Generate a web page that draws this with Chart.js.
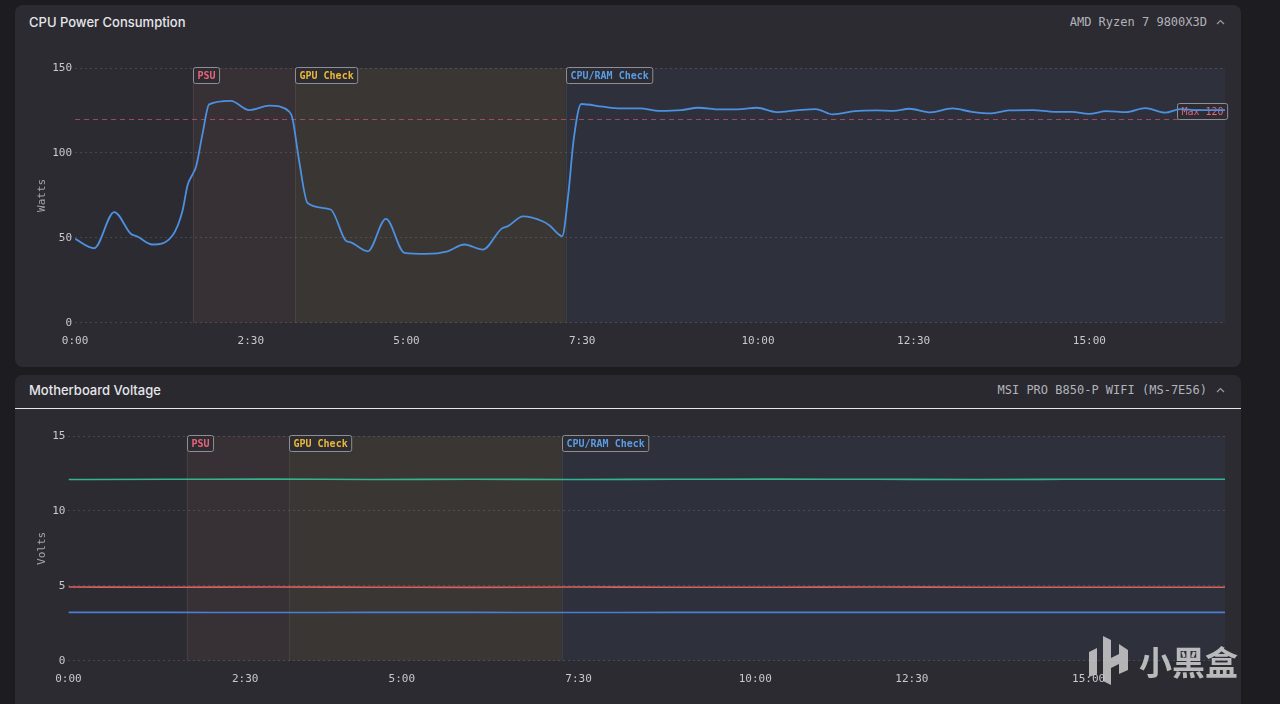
<!DOCTYPE html>
<html>
<head>
<meta charset="utf-8">
<title>Hardware Monitor</title>
<script src="https://cdn.jsdelivr.net/npm/chart.js@4.4.1/dist/chart.umd.min.js"></script>
<style>
  html, body { margin: 0; padding: 0; }
  body { width: 1280px; height: 704px; overflow: hidden; background: #1d1d21; position: relative; font-family: Inter, "Noto Sans", sans-serif; }
  .card { position: absolute; left: 15px; width: 1226px; background: #2c2b32; border-radius: 8px; overflow: hidden; }
  #cpuCard { top: 5px; height: 362px; }
  #voltCard { top: 375px; height: 340px; border-radius: 8px 8px 0 0; }
  .head { position: absolute; left: 0; top: 0; width: 100%; height: 33px; }
  #voltCard .head { background: #29292f; border-bottom: 1.5px solid #e6e6e6; }
  .title { position: absolute; left: 14px; font-size: 13px; font-weight: 500; color: #e6e6ea; line-height: 16px; }
  #cpuCard .title, #cpuCard .device { top: 9px; }
  #voltCard .title, #voltCard .device { top: 7px; }
  .device { position: absolute; right: 34px; font: 12px "DejaVu Sans Mono", monospace; color: #b2b2ba; line-height: 16px; }
  .chev { position: absolute; right: 16px; width: 9px; height: 6px; }
  #cpuCard .chev { top: 14px; }
  #voltCard .chev { top: 12px; }
  .plot { position: absolute; left: 0; width: 1226px; }
  #cpuCard .plot { top: 50px; height: 308px; }
  #voltCard .plot { top: 48px; height: 278px; }
  .mark { position: absolute; left: 1089px; top: 636px; }
  .brand { position: absolute; left: 1139px; top: 641px; font: 700 33px "Noto Sans CJK SC"; line-height: 40px; color: rgba(205,205,205,0.88); }
</style>
</head>
<body>
<div class="card" id="cpuCard">
  <div class="head">
    <span class="title">CPU Power Consumption</span>
    <span class="device">AMD Ryzen 7 9800X3D</span>
    <svg class="chev" viewBox="0 0 9 6"><polyline points="1,5 4.5,1.5 8,5" fill="none" stroke="#9a9aa2" stroke-width="1.2"/></svg>
  </div>
  <div class="plot"><canvas id="cpuChart"></canvas></div>
</div>
<div class="card" id="voltCard">
  <div class="head">
    <span class="title">Motherboard Voltage</span>
    <span class="device">MSI PRO B850-P WIFI (MS-7E56)</span>
    <svg class="chev" viewBox="0 0 9 6"><polyline points="1,5 4.5,1.5 8,5" fill="none" stroke="#9a9aa2" stroke-width="1.2"/></svg>
  </div>
  <div class="plot"><canvas id="voltChart"></canvas></div>
</div>
<svg class="mark" width="42" height="50" viewBox="0 0 42 50">
  <polygon points="0,16 8,12 8,38 0,41" fill="rgba(205,205,205,0.85)"/>
  <polygon points="14,0 22,4 22,22 30,18 30,8 39,14 39,34 30,38 30,28 22,32 22,49 14,45" fill="rgba(205,205,205,0.85)"/>
</svg>
<div class="brand">小黑盒</div>

<script>
// x runs in logger sample numbers; the sampling clock is uneven,
// so the 2:30 marks fall on these samples
const tickSamples = [0, 35, 66, 101, 136, 167, 202];
const tickLabels = ['0:00', '2:30', '5:00', '7:30', '10:00', '12:30', '15:00'];
const lastSample = 229;

// test stages
const stageNames = ['PSU', 'GPU Check', 'CPU/RAM Check'];
const stageStart = [23.4, 43.7, 97.7];
const stageEnd = [43.7, 97.7, 229];

// CPU package power
const cpuSample = [0, 3.8, 7.8, 11.1, 12.4, 15.4, 19.4, 21.4, 22.4, 23.4,
  24.1, 25.4, 26.7, 31.0, 34.7, 38.7, 42.7, 43.3, 44.6, 46.3,
  50.9, 53.9, 54.9, 58.3, 61.9, 65.6, 69.9, 74.2, 77.5, 81.2,
  84.9, 86.2, 89.2, 93.1, 94.5, 97.0, 98.2, 99.3, 100.8, 105.1,
  108.6, 112.5, 116.3, 120.7, 124.1, 128.4, 132.7, 135.8, 139.7, 143.6,
  147.5, 150.9, 155.3, 159.6, 163.0, 166.1, 170.4, 174.7, 178.6, 182.5,
  185.9, 190.7, 195.0, 198.5, 201.9, 205.4, 209.3, 213.1, 217.1, 220.1,
  223.5, 229];
const cpuWatts = [49.4, 43.9, 65.2, 52.4, 50.8, 46.1, 51.4, 66.0, 81.0, 87.4,
  92.0, 111.5, 128.6, 130.7, 125.2, 127.8, 124.2, 120.3, 95.7, 70.5,
  66.7, 48.4, 47.4, 42.1, 61.2, 41.2, 40.6, 42.1, 46.1, 43.1,
  55.3, 56.9, 62.6, 59.8, 57.3, 51.0, 75.0, 108.0, 128.8, 127.2,
  126.2, 126.2, 124.8, 125.2, 126.6, 125.6, 125.8, 126.6, 124.0, 125.0,
  125.8, 122.7, 124.6, 125.0, 124.8, 126.0, 123.9, 126.2, 124.2, 123.3,
  125.0, 125.2, 124.2, 124.2, 123.0, 124.6, 124.0, 126.4, 123.7, 125.8,
  125.2, 125.2];
const cpuMax = 120;

// motherboard rails
const voltSample = [0, 20, 40, 60, 80, 100, 120, 140, 160, 180, 200, 229];
const volt12 = [12.10, 12.11, 12.12, 12.10, 12.11, 12.10, 12.11, 12.12, 12.11, 12.10, 12.11, 12.11];
const volt5 = [4.92, 4.91, 4.92, 4.91, 4.90, 4.92, 4.91, 4.91, 4.92, 4.91, 4.91, 4.91];
const volt33 = [3.23, 3.23, 3.22, 3.23, 3.23, 3.22, 3.23, 3.23, 3.23, 3.23, 3.23, 3.23];

const monoFont = '"DejaVu Sans Mono", monospace';
const stageColors = ['#e8647c', '#e9b73c', '#5b9ce4'];
const stageFills = ['rgba(255,140,110,0.055)', 'rgba(255,210,90,0.065)', 'rgba(90,150,255,0.05)'];

function points(xs, ys) {
    return xs.map((s, i) => ({ x: s, y: ys[i] }));
}

function tag(ctx, text, color, left, top, w) {
    const h = 16;
    const l = Math.round(left) + 0.5, t = Math.round(top) + 0.5;
    ctx.fillStyle = 'rgba(44,44,50,0.9)';
    ctx.strokeStyle = '#8e8e96';
    ctx.lineWidth = 1;
    ctx.beginPath();
    ctx.roundRect(l, t, w, h, 2);
    ctx.fill();
    ctx.stroke();
    ctx.fillStyle = color;
    ctx.textBaseline = 'middle';
    ctx.textAlign = 'left';
    ctx.fillText(text, l + 4, t + h / 2 + 0.5);
}

// shaded stage bands, their tags and the optional max line
const stagesPlugin = {
    id: 'stages',
    beforeDraw(chart) {
        const { ctx, chartArea: a, scales: { x } } = chart;
        ctx.save();
        stageNames.forEach((name, i) => {
            const x0 = x.getPixelForValue(stageStart[i]);
            const x1 = x.getPixelForValue(stageEnd[i]);
            ctx.fillStyle = stageFills[i];
            ctx.fillRect(x0, a.top, x1 - x0, a.bottom - a.top);
            ctx.strokeStyle = 'rgba(255,255,255,0.07)';
            ctx.lineWidth = 1;
            ctx.beginPath();
            ctx.moveTo(Math.round(x0) + 0.5, a.top);
            ctx.lineTo(Math.round(x0) + 0.5, a.bottom);
            ctx.stroke();
        });
        ctx.restore();
    },
    beforeDatasetsDraw(chart, args, opts) {
        const { ctx, chartArea: a, scales: { x, y } } = chart;
        ctx.save();
        if (opts.max) {
            const yy = Math.round(y.getPixelForValue(opts.max)) + 0.5;
            ctx.strokeStyle = 'rgba(235,90,120,0.6)';
            ctx.lineWidth = 1;
            ctx.setLineDash([5, 4]);
            ctx.beginPath();
            ctx.moveTo(a.left, yy);
            ctx.lineTo(a.right, yy);
            ctx.stroke();
            ctx.setLineDash([]);
            const t = 'Max ' + opts.max;
            ctx.font = '10px ' + monoFont;
            const w = ctx.measureText(t).width + 8;
            tag(ctx, t, '#e8647c', a.right + 2 - w, yy - 17, w);
        }
        ctx.font = 'bold 10px ' + monoFont;
        stageNames.forEach((name, i) => {
            const w = ctx.measureText(name).width + 8;
            tag(ctx, name, stageColors[i], x.getPixelForValue(stageStart[i]), a.top - 1, w);
        });
        ctx.restore();
    }
};

function lineChart(canvasId, datasets, yMax, yStep, yTitle, maxLine) {
    return new Chart(document.getElementById(canvasId), {
        type: 'line',
        data: { datasets },
        plugins: [stagesPlugin],
        options: {
            responsive: true,
            maintainAspectRatio: false,
            animation: false,
            layout: { padding: { left: 17, right: 16, top: 13, bottom: 3 } },
            elements: {
                point: { radius: 0 },
                line: { cubicInterpolationMode: 'monotone' }
            },
            plugins: {
                legend: { display: false },
                tooltip: { enabled: false },
                stages: { max: maxLine }
            },
            scales: {
                x: {
                    type: 'linear',
                    min: 0,
                    max: lastSample,
                    afterBuildTicks: axis => { axis.ticks = tickSamples.map(v => ({ value: v })); },
                    grid: { display: false, drawTicks: false },
                    border: { display: false },
                    ticks: {
                        autoSkip: false,
                        maxRotation: 0,
                        padding: 12,
                        color: '#c8c8d0',
                        font: { family: monoFont, size: 11 },
                        callback: v => tickLabels[tickSamples.indexOf(v)]
                    }
                },
                y: {
                    min: 0,
                    max: yMax,
                    ticks: { stepSize: yStep, padding: 3, color: '#c8c8d0', font: { family: monoFont, size: 11 } },
                    grid: { color: 'rgba(255,255,255,0.13)', drawTicks: false },
                    border: { display: false, dash: [2, 3] },
                    title: {
                        display: true,
                        text: yTitle,
                        color: '#a4a4ac',
                        padding: { top: 4, bottom: 0 },
                        font: { family: monoFont, size: 11 }
                    }
                }
            }
        }
    });
}

lineChart('cpuChart', [{
    label: 'CPU Package',
    data: points(cpuSample, cpuWatts),
    borderColor: '#4d90e0',
    borderWidth: 1.8
}], 150, 50, 'Watts', cpuMax);

lineChart('voltChart', [
    { label: '+12V', data: points(voltSample, volt12), borderColor: '#34b48c', borderWidth: 1.6 },
    { label: '+5V', data: points(voltSample, volt5), borderColor: '#d9615f', borderWidth: 1.6 },
    { label: '+3.3V', data: points(voltSample, volt33), borderColor: '#4b7fd3', borderWidth: 1.6 }
], 15, 5, 'Volts', 0);
</script>
</body>
</html>
